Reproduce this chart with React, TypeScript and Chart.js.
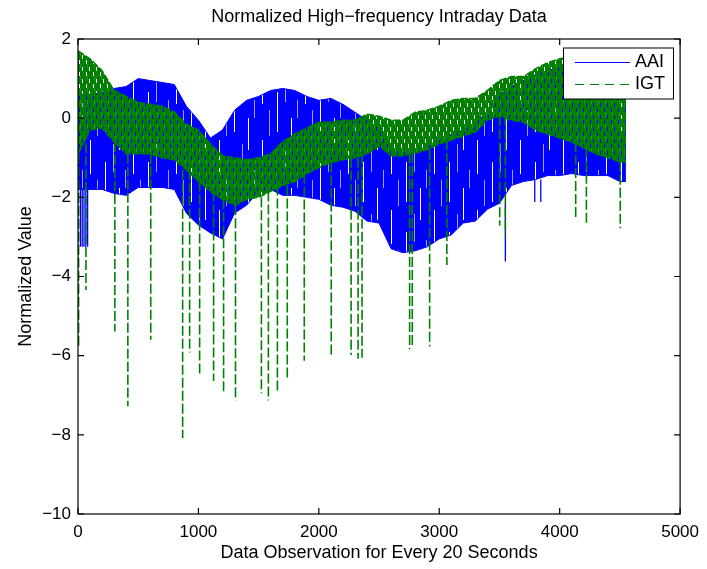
import { useEffect, useRef } from 'react';
import { Chart, registerables } from 'chart.js';

Chart.register(...registerables);

// ---- Data ----
const observations = [
  0, 100, 200, 300, 400, 500, 600, 700, 800, 900,
  1000, 1100, 1200, 1300, 1400, 1500, 1600, 1700, 1800, 1900,
  2000, 2100, 2200, 2300, 2400, 2500, 2600, 2700, 2800, 2900,
  3000, 3100, 3200, 3300, 3400, 3500, 3600, 3700, 3800, 3900,
  4000, 4100, 4200, 4300, 4400, 4500, 4550,
];

// AAI: upper and lower edge of the oscillating band
const aaiUpper = [
  0.6, 0.6, 0.65, 0.75, 0.8, 1.0, 0.95, 0.9, 0.85, 0.3,
  -0.05, -0.5, -0.3, 0.2, 0.45, 0.55, 0.7, 0.75, 0.7, 0.55,
  0.45, 0.5, 0.35, 0.15, -0.05, -0.25, -0.75, -0.85, -0.85, -0.7,
  -0.55, -0.4, -0.3, -0.1, 0.15, 0.6, 0.8, 0.95, 1.1, 1.2,
  1.3, 1.3, 1.3, 1.3, 1.3, 1.3, 1.3,
];
const aaiLower = [
  -1.8, -1.8, -1.8, -1.9, -1.95, -1.75, -1.75, -1.75, -1.8, -2.4,
  -2.7, -2.9, -3.05, -2.4, -2.2, -1.85, -1.8, -1.95, -1.95, -2.0,
  -2.05, -2.2, -2.25, -2.35, -2.6, -2.65, -3.3, -3.4, -3.35, -3.25,
  -3.05, -2.95, -2.65, -2.6, -2.3, -2.15, -1.7, -1.6, -1.55, -1.45,
  -1.45, -1.4, -1.45, -1.45, -1.45, -1.6, -1.6,
];
// IGT: upper and lower edge of the oscillating band
const igtUpper = [
  1.7, 1.5, 1.2, 0.7, 0.55, 0.4, 0.35, 0.3, 0.15, -0.15,
  -0.3, -0.65, -0.95, -1.0, -1.05, -1.0, -0.9, -0.6, -0.4, -0.25,
  -0.1, -0.1, -0.05, -0.05, 0.1, 0.05, -0.05, -0.05, 0.15, 0.2,
  0.3, 0.45, 0.5, 0.5, 0.7, 0.95, 1.05, 1.05, 1.25, 1.4,
  1.5, 1.55, 1.55, 1.55, 1.55, 1.55, 1.55,
];
const igtLower = [
  -0.9, -0.3, -0.25, -0.6, -0.9, -0.9, -0.9, -1.0, -1.05, -1.3,
  -1.6, -1.85, -2.05, -2.2, -2.05, -2.0, -1.85, -1.7, -1.6, -1.4,
  -1.25, -1.12, -1.05, -1.0, -0.9, -0.7, -0.95, -0.95, -0.88, -0.8,
  -0.65, -0.55, -0.45, -0.35, -0.05, 0.05, -0.05, -0.1, -0.3, -0.4,
  -0.5, -0.6, -0.75, -0.9, -1.0, -1.1, -1.1,
];

// isolated downward spikes
const aaiSpikeObs = [20, 35, 50, 65, 80, 3549, 3793, 3843];
const aaiSpikeMin = [-3.25, -3.25, -3.25, -3.25, -3.25, -3.62, -2.12, -2.12];
const igtSpikeObs = [
  5, 66, 306, 414, 604, 869, 927, 1010, 1126, 1209,
  1308, 1523, 1581, 1656, 1738, 1879, 2103, 2268, 2326, 2359,
  2754, 2776, 2920, 3063, 3502, 3549, 4133, 4222, 4503,
];
const igtSpikeMin = [
  -5.8, -4.34, -5.39, -7.28, -5.6, -8.08, -5.92, -6.48, -6.64, -6.95,
  -7.13, -6.95, -7.13, -6.88, -6.63, -6.13, -5.98, -5.98, -6.08, -6.05,
  -5.84, -5.73, -5.77, -3.71, -2.71, -2.96, -2.52, -2.71, -2.78,
];

const xTicks = [0, 1000, 2000, 3000, 4000, 5000];
const yTicks = [-10, -8, -6, -4, -2, 0, 2];
const seriesNames = ['AAI', 'IGT'];
const chartTitle = 'Normalized High\u2212frequency Intraday Data';
const xLabel = 'Data Observation for Every 20 Seconds';
const yLabel = 'Normalized Value';

const BLUE = '#0000ff';
const GREEN = '#008000';
const FONT = '"Liberation Sans", Arial, Helvetica, sans-serif';

function nearestIndex(o: number) {
  let best = 0;
  for (let j = 1; j < observations.length; j++) {
    if (Math.abs(observations[j] - o) < Math.abs(observations[best] - o)) best = j;
  }
  return best;
}

function band(values: number[]) {
  return observations.map((o, i) => ({ x: o, y: values[i] }));
}

function spikes(obs: number[], mins: number[], base: number[]) {
  const out: { x: number; y: number | null }[] = [];
  obs.forEach((o, i) => {
    out.push({ x: o, y: base[nearestIndex(o)] });
    out.push({ x: o, y: mins[i] });
    out.push({ x: o, y: null });
  });
  return out;
}

function fmt(v: number) {
  return v < 0 ? '\u2212' + Math.abs(v) : String(v);
}

const frameAndLegend = {
  id: 'frameAndLegend',
  afterDatasetsDraw(chart: any) {
    const { ctx, chartArea, scales } = chart;
    const { left, right, top, bottom } = chartArea;
    ctx.save();
    ctx.strokeStyle = '#000';
    ctx.lineWidth = 1.2;
    ctx.setLineDash([]);
    ctx.strokeRect(left, top, right - left, bottom - top);
    const tl = 6;
    ctx.beginPath();
    xTicks.forEach((v) => {
      const px = scales.x.getPixelForValue(v);
      ctx.moveTo(px, bottom);
      ctx.lineTo(px, bottom - tl);
      ctx.moveTo(px, top);
      ctx.lineTo(px, top + tl);
    });
    yTicks.forEach((v) => {
      const py = scales.y.getPixelForValue(v);
      ctx.moveTo(left, py);
      ctx.lineTo(left + tl, py);
      ctx.moveTo(right, py);
      ctx.lineTo(right - tl, py);
    });
    ctx.stroke();

    // legend box
    const bx = 563.5, by = 48, bw = 110, bh = 51;
    ctx.fillStyle = '#fff';
    ctx.fillRect(bx, by, bw, bh);
    ctx.lineWidth = 1;
    ctx.strokeRect(bx, by, bw, bh);
    const rows = [62.5, 84.5];
    const colors = [BLUE, GREEN];
    const dashes = [[], [9, 6]];
    rows.forEach((ry, i) => {
      ctx.beginPath();
      ctx.strokeStyle = colors[i];
      ctx.lineWidth = 1;
      ctx.setLineDash(dashes[i]);
      ctx.moveTo(575, ry);
      ctx.lineTo(630, ry);
      ctx.stroke();
      ctx.setLineDash([]);
      ctx.fillStyle = '#000';
      ctx.font = '18px ' + FONT;
      ctx.textAlign = 'left';
      ctx.textBaseline = 'middle';
      ctx.fillText(seriesNames[i], 635, ry);
    });
    ctx.restore();
  },
};

// texture for the dense green band: mostly green with short dash gaps
function makeGreenPattern() {
  const c = document.createElement('canvas');
  c.width = 7;
  c.height = 12;
  const g = c.getContext('2d')!;
  g.fillStyle = GREEN;
  g.fillRect(0, 0, 7, 12);
  g.clearRect(2, 0, 1, 4);
  g.clearRect(5, 7, 1, 4);
  g.fillStyle = '#2e8b2e';
  g.fillRect(3, 4, 1, 4);
  return g.createPattern(c, 'repeat')!;
}

// texture for the dense blue band: solid blue with a few thin light streaks
function makeBluePattern() {
  const c = document.createElement('canvas');
  c.width = 43;
  c.height = 70;
  const g = c.getContext('2d')!;
  g.fillStyle = BLUE;
  g.fillRect(0, 0, 43, 70);
  g.fillStyle = '#ffffff';
  g.fillRect(4, 0, 1, 34);
  g.fillRect(19, 22, 1, 40);
  g.fillRect(33, 48, 1, 22);
  g.fillRect(33, 0, 1, 10);
  g.fillStyle = '#a0a0ff';
  g.fillRect(11, 40, 1, 26);
  g.fillRect(27, 4, 1, 28);
  g.fillRect(39, 30, 1, 18);
  return g.createPattern(c, 'repeat')!;
}

export default function App() {
  const ref = useRef<HTMLCanvasElement>(null);

  useEffect(() => {
    if (!ref.current) return;
    Chart.defaults.font.family = FONT;
    Chart.defaults.color = '#000';
    const greenPattern = makeGreenPattern();
    const bluePattern = makeBluePattern();

    const common = { pointRadius: 0, pointHoverRadius: 0, tension: 0, spanGaps: false };
    const chart = new Chart(ref.current, {
      type: 'line',
      data: {
        datasets: [
          {
            ...common,
            label: seriesNames[0],
            data: band(aaiUpper),
            borderColor: BLUE,
            backgroundColor: bluePattern,
            borderWidth: 1,
            fill: '+1',
            order: 6,
          },
          {
            ...common,
            label: seriesNames[0] + ' low',
            data: band(aaiLower),
            borderColor: BLUE,
            borderWidth: 1,
            fill: false,
            order: 5,
          },
          {
            ...common,
            label: seriesNames[0] + ' spikes',
            data: spikes(aaiSpikeObs, aaiSpikeMin, aaiLower),
            borderColor: BLUE,
            borderWidth: 1.3,
            fill: false,
            order: 4,
          },
          {
            ...common,
            label: seriesNames[1],
            data: band(igtUpper),
            borderColor: GREEN,
            backgroundColor: greenPattern,
            borderWidth: 1.5,
            borderDash: [7, 2],
            fill: '+1',
            order: 3,
          },
          {
            ...common,
            label: seriesNames[1] + ' low',
            data: band(igtLower),
            borderColor: GREEN,
            borderWidth: 1.5,
            borderDash: [7, 2],
            fill: false,
            order: 2,
          },
          {
            ...common,
            label: seriesNames[1] + ' spikes',
            data: spikes(igtSpikeObs, igtSpikeMin, igtLower),
            borderColor: GREEN,
            borderWidth: 1.6,
            borderDash: [10, 3],
            fill: false,
            order: 1,
          },
        ],
      },
      options: {
        animation: false,
        responsive: false,
        devicePixelRatio: 1,
        layout: { padding: { left: 0, right: 25, top: 0, bottom: 0 } },
        plugins: {
          legend: { display: false },
          tooltip: { enabled: false },
          title: {
            display: true,
            text: chartTitle,
            fullSize: false,
            color: '#000',
            font: { size: 18, weight: 'normal' },
            padding: { top: 6, bottom: 11.4 },
          },
        },
        scales: {
          x: {
            type: 'linear',
            min: 0,
            max: 5000,
            afterBuildTicks: (s: any) => {
              s.ticks = xTicks.map((v) => ({ value: v }));
            },
            afterFit: (s: any) => {
              s.height = 55;
            },
            ticks: {
              font: { size: 17 },
              padding: 8,
              maxRotation: 0,
              autoSkip: false,
              color: '#000',
              callback: (v: any) => fmt(Number(v)),
            },
            grid: { display: false, drawTicks: false },
            border: { display: false },
            title: {
              display: true,
              text: xLabel,
              color: '#000',
              font: { size: 18 },
              padding: { top: 0, bottom: 5 },
            },
          },
          y: {
            type: 'linear',
            min: -10,
            max: 2,
            afterBuildTicks: (s: any) => {
              s.ticks = yTicks.map((v) => ({ value: v }));
            },
            afterFit: (s: any) => {
              s.width = 78;
            },
            ticks: {
              font: { size: 17 },
              padding: 7,
              autoSkip: false,
              color: '#000',
              callback: (v: any) => fmt(Number(v)),
            },
            grid: { display: false, drawTicks: false },
            border: { display: false },
            title: {
              display: true,
              text: yLabel,
              color: '#000',
              font: { size: 18 },
              padding: { top: 15, bottom: 0 },
            },
          },
        },
      },
      plugins: [frameAndLegend],
    } as any);

    return () => chart.destroy();
  }, []);

  return (
    <div style={{ position: 'fixed', left: 0, top: 0, width: 707, height: 569, background: '#fff' }}>
      <canvas ref={ref} width={707} height={569} style={{ display: 'block', width: 707, height: 569 }} />
    </div>
  );
}
